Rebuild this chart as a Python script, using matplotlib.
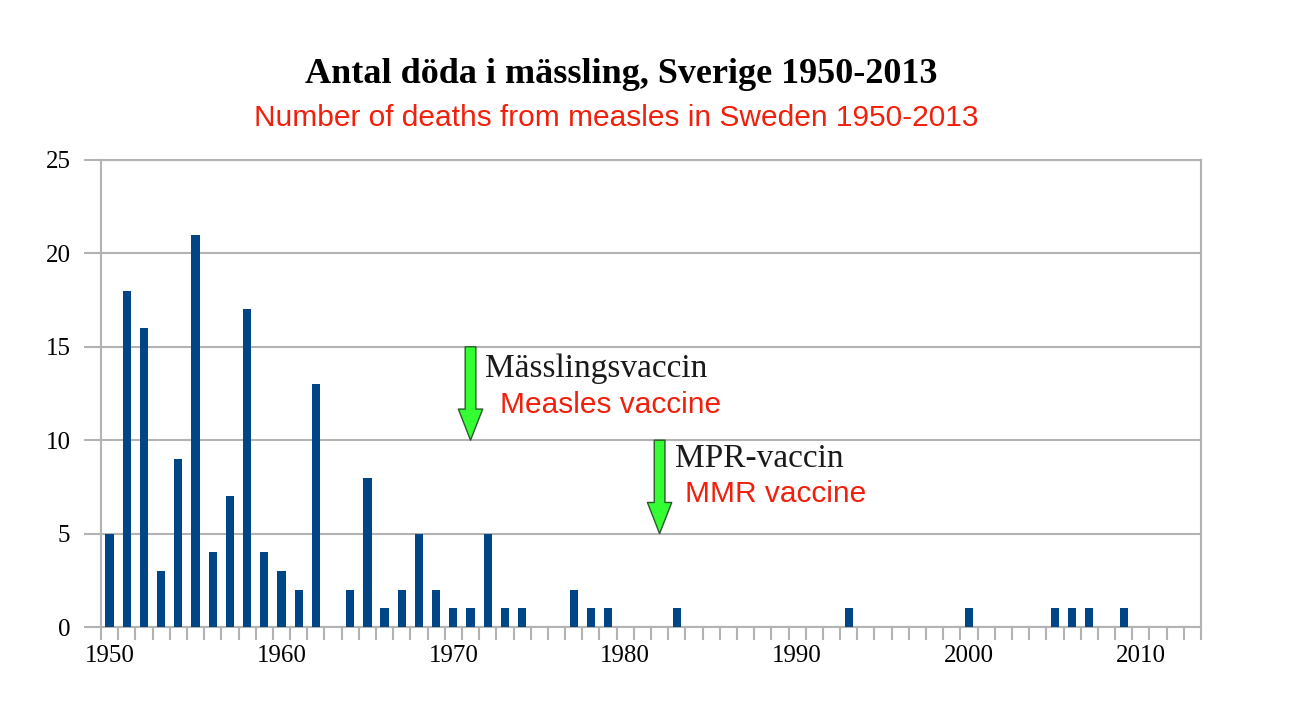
import matplotlib
matplotlib.use("Agg")
import matplotlib.pyplot as plt
from matplotlib.patches import FancyArrowPatch

# antal döda per år 1950-2013
years = list(range(1950, 2014))
deaths = [5, 18, 16, 3, 9, 21, 4, 7, 17, 4,
          3, 2, 13, 0, 2, 8, 1, 2, 5, 2,
          1, 1, 5, 1, 1, 0, 0, 2, 1, 1,
          0, 0, 0, 1, 0, 0, 0, 0, 0, 0,
          0, 0, 0, 1, 0, 0, 0, 0, 0, 0,
          1, 0, 0, 0, 0, 1, 1, 1, 0, 1,
          0, 0, 0, 0]
decade_ticks = [1950, 1960, 1970, 1980, 1990, 2000, 2010]
y_ticks = [0, 5, 10, 15, 20, 25]

# vaccinpilar: (år, från, till)
vaccines = [(1971, 15, 10), (1982, 10, 5)]

title_sv = "Antal döda i mässling, Sverige 1950-2013"
title_en = "Number of deaths from measles in Sweden 1950-2013"
red = "#f0200c"
grid_grey = "#b3b3b3"
serif = ["Liberation Serif", "DejaVu Serif"]
sans = ["Liberation Sans", "DejaVu Sans"]

fig = plt.figure(figsize=(12.98, 7.18), dpi=100)
ax = fig.add_axes([101 / 1298, 91 / 718, 1100 / 1298, 467 / 718])

ax.bar(years, deaths, width=0.48, color="#004586", zorder=3)

ax.set_xlim(1949.5, 2013.5)
ax.set_ylim(0, 25)
ax.set_yticks(y_ticks)
ax.set_yticklabels([str(v) for v in y_ticks], family=serif, fontsize=18)
ax.yaxis.grid(True, color=grid_grey, linewidth=1.5, zorder=0)

# tickmarks mellan kategorierna, etiketter centrerade på åren
ax.set_xticks([y - 0.5 for y in years] + [2013.5], minor=True)
ax.set_xticks(decade_ticks)
ax.set_xticklabels([str(v) for v in decade_ticks], family=serif, fontsize=18)
ax.tick_params(axis="x", which="major", length=0, pad=13)
ax.tick_params(axis="x", which="minor", length=9, width=1.5, color=grid_grey)
ax.tick_params(axis="y", length=12, width=1.5, color=grid_grey, pad=10)

for side in ["left", "bottom", "right", "top"]:
    ax.spines[side].set_color(grid_grey)
    ax.spines[side].set_linewidth(1.5)

for yr, y0, y1 in vaccines:
    arrow = FancyArrowPatch((yr, y0), (yr, y1),
                            arrowstyle="simple,head_width=1.25,head_length=1.6,tail_width=0.55",
                            mutation_scale=14, facecolor="#33ff33",
                            edgecolor="#2a5a2a", linewidth=1,
                            shrinkA=0, shrinkB=0, zorder=4)
    ax.add_patch(arrow)

ax.text(1971.85, 13.8, "Mässlingsvaccin", family=serif, fontsize=24,
        color="#1a1a1a", va="center", ha="left")
ax.text(1972.7, 11.9, "Measles vaccine", family=sans, fontsize=21.5,
        color=red, va="center", ha="left")
ax.text(1982.9, 9.0, "MPR-vaccin", family=serif, fontsize=24,
        color="#1a1a1a", va="center", ha="left")
ax.text(1983.45, 7.1, "MMR vaccine", family=sans, fontsize=21.5,
        color=red, va="center", ha="left")

fig.text(0.479, 0.896, title_sv, family=serif, fontsize=26, weight="bold",
         ha="center", va="center")
fig.text(0.475, 0.835, title_en, family=sans, fontsize=21.5, color=red,
         ha="center", va="center")

fig.savefig("out.png", dpi=100)
